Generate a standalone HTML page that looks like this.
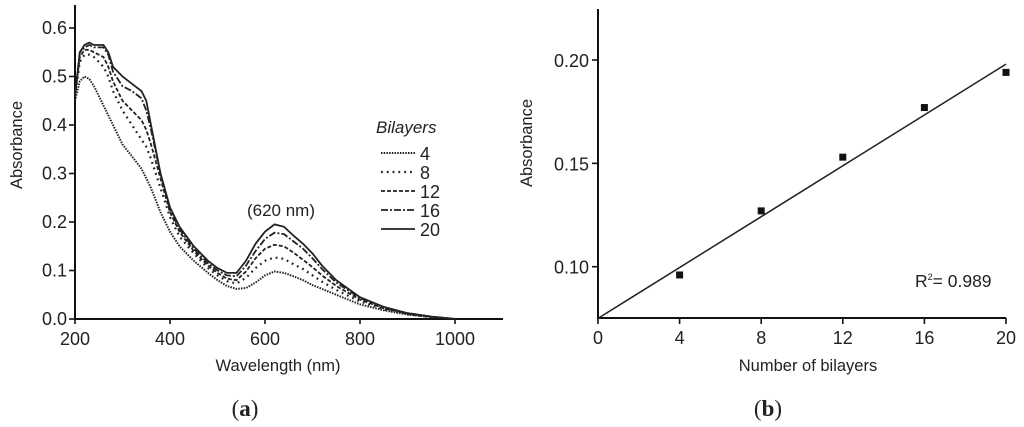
<!DOCTYPE html>
<html><head><meta charset="utf-8"><style>
body{margin:0;background:#fff}
svg{display:block}
text{font-family:"Liberation Sans",sans-serif;fill:#222}
</style></head><body>
<svg width="1024" height="427" viewBox="0 0 1024 427">
<g id="left"></g>
<g id="right"></g>
<text x="245" y="416" text-anchor="middle" style="font-family:'Liberation Serif',serif;font-size:23px">(<tspan font-weight="bold">a</tspan>)</text>
<text x="768" y="416" text-anchor="middle" style="font-family:'Liberation Serif',serif;font-size:23px">(<tspan font-weight="bold">b</tspan>)</text>
</svg>
<script>
const wavelengths=[200,210,220,230,240,250,260,270,280,300,320,340,350,360,380,400,420,450,480,500,520,540,560,580,600,620,640,660,680,700,720,750,800,850,900,950,1000];
const s4=[0.45,0.49,0.50,0.495,0.48,0.46,0.44,0.42,0.40,0.36,0.335,0.31,0.29,0.27,0.22,0.18,0.15,0.12,0.095,0.08,0.068,0.062,0.064,0.075,0.09,0.098,0.095,0.088,0.08,0.07,0.062,0.05,0.03,0.018,0.009,0.004,0];
const s8=[0.46,0.53,0.545,0.545,0.54,0.53,0.52,0.50,0.47,0.43,0.40,0.37,0.355,0.33,0.27,0.21,0.17,0.135,0.105,0.09,0.078,0.073,0.085,0.105,0.12,0.127,0.124,0.113,0.103,0.09,0.077,0.06,0.036,0.02,0.01,0.004,0];
const s12=[0.46,0.54,0.555,0.555,0.55,0.545,0.54,0.52,0.49,0.45,0.43,0.41,0.39,0.36,0.29,0.22,0.18,0.14,0.11,0.095,0.083,0.08,0.098,0.125,0.145,0.153,0.15,0.137,0.122,0.107,0.09,0.068,0.04,0.022,0.011,0.005,0];
const s16=[0.46,0.55,0.56,0.565,0.56,0.56,0.56,0.545,0.51,0.48,0.47,0.455,0.43,0.39,0.30,0.225,0.185,0.145,0.115,0.1,0.09,0.088,0.11,0.14,0.165,0.178,0.175,0.16,0.145,0.125,0.103,0.075,0.043,0.024,0.012,0.005,0];
const s20=[0.46,0.55,0.565,0.57,0.565,0.565,0.565,0.55,0.52,0.50,0.485,0.47,0.45,0.40,0.30,0.23,0.19,0.15,0.12,0.105,0.095,0.095,0.12,0.155,0.18,0.195,0.19,0.172,0.155,0.135,0.11,0.08,0.045,0.025,0.012,0.005,0];
const seriesLabels=["4","8","12","16","20"];
const xTicksA=[200,400,600,800,1000];
const yTicksA=[0.0,0.1,0.2,0.3,0.4,0.5,0.6];
const bilayers=[4,8,12,16,20];
const absB=[0.096,0.127,0.153,0.177,0.194];
const fitLine=[0.075,0.198];
const xTicksB=[0,4,8,12,16,20];
const yTicksB=[0.10,0.15,0.20];

const NS="http://www.w3.org/2000/svg";
function mk(p,t,a,txt){const e=document.createElementNS(NS,t);for(const k in a)e.setAttribute(k,a[k]);if(txt!==undefined)e.textContent=txt;p.appendChild(e);return e;}
const dashes=["1.5,1.2","1.8,4","4,2","7,2,2,2",""];
const widths=[2,2.2,1.8,1.8,1.8];

// Left chart
const L=document.getElementById('left');
const xA=v=>75+(v-200)*(380/800);
const yA=v=>319-v*(291/0.6);
let ax=mk(L,'path',{d:'M75,5 V319 H503',fill:'none',stroke:'#111','stroke-width':2});

xTicksA.forEach(t=>{const x=xA(t);
 let l=mk(L,'line',{x1:x,x2:x,y1:319,y2:324,stroke:'#111','stroke-width':1.6});
 let tx=mk(L,'text',{x:x,y:345,'text-anchor':'middle','font-size':18},String(t));});
yTicksA.forEach(t=>{const y=yA(t);
 let l=mk(L,'line',{x1:69,x2:75,y1:y,y2:y,stroke:'#111','stroke-width':1.6});
 let tx=mk(L,'text',{x:67,y:y+6,'text-anchor':'end','font-size':18},t.toFixed(1));});
[s4,s8,s12,s16,s20].forEach((s,i)=>{
 const d=s.map((v,j)=>(j?'L':'M')+xA(wavelengths[j]).toFixed(1)+','+yA(v).toFixed(1)).join(' ');
 let p=mk(L,'path',{d:d,fill:'none',stroke:'#222','stroke-width':widths[i],'stroke-dasharray':dashes[i]});
 
});
let t1=mk(L,'text',{x:278,y:371,'text-anchor':'middle','font-size':16.5},'Wavelength (nm)');
let t2=mk(L,'text',{x:22,y:145,'text-anchor':'middle','font-size':16.5,transform:'rotate(-90 22 145)'},'Absorbance');
let t3=mk(L,'text',{x:281,y:216,'text-anchor':'middle','font-size':17},'(620 nm)');
let lt=mk(L,'text',{x:376,y:133,'font-size':17,'font-style':'italic'},'Bilayers');
seriesLabels.forEach((s,i)=>{const y=153+i*19;
 let l=mk(L,'line',{x1:381,x2:415,y1:y,y2:y,stroke:'#222','stroke-width':widths[i],'stroke-dasharray':dashes[i]});
 let tx=mk(L,'text',{x:420,y:y+7,'font-size':18},s);});

// Right chart
const R=document.getElementById('right');
const xB=v=>598+v*(408/20);
const yB=v=>60+(0.20-v)*(206.7/0.10);
let ax2=mk(R,'path',{d:'M598,9 V318 H1006',fill:'none',stroke:'#111','stroke-width':2});

xTicksB.forEach(t=>{const x=xB(t);
 let l=mk(R,'line',{x1:x,x2:x,y1:318,y2:324,stroke:'#111','stroke-width':1.6});
 let tx=mk(R,'text',{x:x,y:344,'text-anchor':'middle','font-size':18},String(t));});
yTicksB.forEach(t=>{const y=yB(t);
 let l=mk(R,'line',{x1:592,x2:598,y1:y,y2:y,stroke:'#111','stroke-width':1.6});
 let tx=mk(R,'text',{x:589,y:y+7,'text-anchor':'end','font-size':18},t.toFixed(2));});
let fl=mk(R,'line',{x1:xB(0),y1:yB(fitLine[0]),x2:xB(20),y2:yB(fitLine[1]),stroke:'#222','stroke-width':1.5});

bilayers.forEach((b,i)=>{
 let r=mk(R,'rect',{x:xB(b)-3.5,y:yB(absB[i])-3.5,width:7,height:7,fill:'#111'});
 });
let r2=mk(R,'text',{x:915,y:287,'font-size':17.5},'');r2.innerHTML='R<tspan font-size="9" dy="-7">2</tspan><tspan dy="7">= 0.989</tspan>';

let t4=mk(R,'text',{x:808,y:371,'text-anchor':'middle','font-size':16.5},'Number of bilayers');
let t5=mk(R,'text',{x:532,y:143,'text-anchor':'middle','font-size':16.5,transform:'rotate(-90 532 143)'},'Absorbance');
</script>
</body></html>
